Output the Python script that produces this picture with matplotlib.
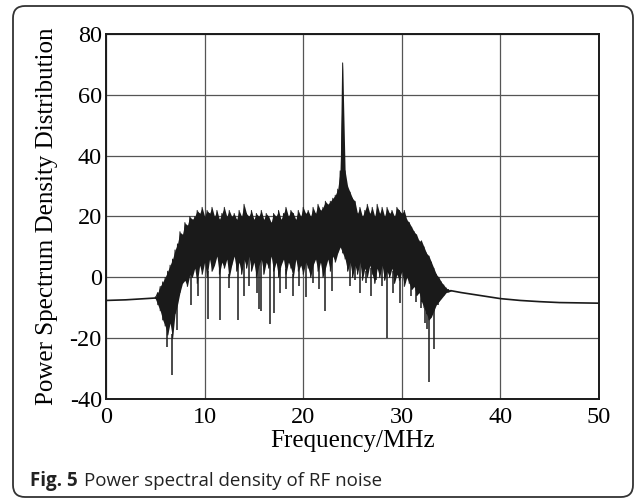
import numpy as np
import matplotlib
matplotlib.use('Agg')
import matplotlib.pyplot as plt
from matplotlib.patches import FancyBboxPatch
from matplotlib.transforms import IdentityTransform

plt.rcParams['axes.unicode_minus'] = False

# ---- data ----
# smooth parts of the spectrum outside the noise band
left_freq = [0, 1, 2, 3, 4, 5]
left_psd = [-7.6, -7.5, -7.4, -7.2, -7.0, -6.8]

right_freq = [35, 36, 37, 38, 40, 42, 44, 46, 48, 50]
right_psd = [-4.4, -5.0, -5.5, -6.0, -7.0, -7.6, -8.0, -8.3, -8.4, -8.5]

# noise band, 0.25 MHz steps from 5 to 35 MHz: top and bottom of the black band
noise_freq = np.arange(5.0, 35.01, 0.25)
noise_top = [
    -6.5, -5, -3, -1.5, 0, 2, 4, 6, 9, 11, 15, 14, 18, 17, 20, 19,
    20, 22, 21, 23, 20, 22, 21, 23, 20, 22, 19, 21, 23, 20, 22, 20,
    21, 19, 22, 20, 24, 21, 20, 22, 19, 21, 20, 22, 19, 21, 20, 18,
    21, 20, 22, 19, 21, 23, 20, 22, 21, 19, 22, 20, 23, 21, 22, 20,
    23, 21, 24, 22, 23, 25, 24, 25, 26, 27, 29, 35, 70.5, 35, 30, 28,
    26, 25, 21, 23, 20, 22, 24, 21, 23, 20, 24, 21, 23, 20, 23, 21,
    22, 20, 23, 22, 21, 22, 19, 18, 16.5, 15, 14, 12, 12, 10, 8, 7,
    5, 3, 1, 0, -1.5, -2.5, -3.5, -4, -4.3]
noise_bottom = [
    -7, -9, -11, -14, -16, -19, -15, -20, -12, -9, -5, -2, -1, -3, 1, 0,
    3, -2, 4, 1, 5, 0, 6, 2, 4, 7, 1, 5, 3, 6, 0, 4,
    7, 2, 5, 1, 6, 3, 7, 2, 5, 0, 4, 6, 1, 5, 3, 7,
    2, 5, 0, 4, 6, 1, 5, 3, 0, 6, 2, 4, 1, 5, 3, 0,
    4, 6, 2, 5, 0, 3, 6, 2, 7, 5, 8, 10, 8, 6, 2, 5,
    0, 4, 1, 5, -1, 3, 0, 4, 1, -2, 3, 0, 4, -1, 2, 0,
    3, -2, 1, -1, 2, -3, 0, -2, -4, -3, -6, -5, -8, -10, -12, -14,
    -13, -11, -9, -8, -7, -6, -5, -4.8, -4.4]

# deep downward spikes
spike_freq = [6.15, 6.73, 7.24, 8.6, 9.3, 10.3, 11.6, 12.5, 13.4, 14.0, 14.5,
              15.3, 15.5, 15.7, 16.6, 17.0, 17.6, 18.3, 19.0, 19.6, 20.3, 21.0,
              21.6, 22.2, 22.9, 24.7, 25.3, 25.8, 26.4, 26.9, 27.4, 28.0, 28.45,
              29.1, 29.8, 30.3, 30.9, 31.4, 31.9, 32.4, 32.6, 32.8, 33.3, 33.7]
spike_psd = [-23, -32.2, -17.4, -9, -6, -13.6, -14, -3.5, -14, -6, -3,
             -5, -10.3, -11, -15.5, -11.6, -5, -4, -6, -3, -6.5, -2,
             -4, -11, -4.4, -3, -1, -5, -2, -6, -1, -3, -20,
             -5, -8.5, -2, -6, -8, -10, -15, -17, -34.4, -23.5, -9]

x_ticks = [0, 10, 20, 30, 40, 50]
y_ticks = [-40, -20, 0, 20, 40, 60, 80]

serif = 'Liberation Serif'
ink = '#1a1a1a'

fig = plt.figure(figsize=(6.37, 4.99), dpi=100)
ax = fig.add_axes([0.1664, 0.2004, 0.774, 0.7315])

ax.plot(left_freq, left_psd, color=ink, lw=1.2, zorder=3)
ax.plot(right_freq, right_psd, color=ink, lw=1.2, zorder=3)

ax.fill_between(noise_freq, noise_bottom, noise_top, color=ink, lw=0, zorder=3)
zig_x = np.repeat(noise_freq, 2)
zig_y = np.column_stack([noise_top, noise_bottom]).ravel()
ax.plot(zig_x, zig_y, color=ink, lw=0.7, zorder=3)
# spikes hang from the bottom of the band
spike_top = np.interp(spike_freq, noise_freq, noise_bottom) + 1
ax.vlines(spike_freq, spike_psd, spike_top, color=ink, lw=1.1, zorder=3)

ax.set_xlim(0, 50)
ax.set_ylim(-40, 80)
ax.set_xticks(x_ticks)
ax.set_yticks(y_ticks)
ax.grid(True, color='#555555', lw=0.9)
ax.set_axisbelow(True)
ax.tick_params(length=0, labelsize=17.5)
ax.tick_params(axis='x', pad=6)
ax.tick_params(axis='y', pad=3)
for lab in ax.get_xticklabels() + ax.get_yticklabels():
    lab.set_fontfamily(serif)
for s in ax.spines.values():
    s.set_linewidth(1.4)
    s.set_color(ink)

ax.set_xlabel('Frequency/MHz', fontfamily=serif, fontsize=18, labelpad=1)
ax.set_ylabel('Power Spectrum Density Distribution', fontfamily=serif, fontsize=18, labelpad=8)

# caption and rounded frame
fig.text(30 / 637, 1 - 481 / 499, 'Fig. 5', fontfamily='Open Sans', fontweight='bold',
         fontsize=13.5, va='center', ha='left', color='#222222')
fig.text(84 / 637, 1 - 481 / 499, 'Power spectral density of RF noise', fontfamily='Open Sans',
         fontsize=13.5, va='center', ha='left', color='#222222')

frame = FancyBboxPatch((13, 2), 620, 491, boxstyle='round,pad=0,rounding_size=12',
                       transform=IdentityTransform(), fill=False, lw=1.3, ec='#333333')
fig.add_artist(frame)

fig.savefig('out.png', dpi=100)
